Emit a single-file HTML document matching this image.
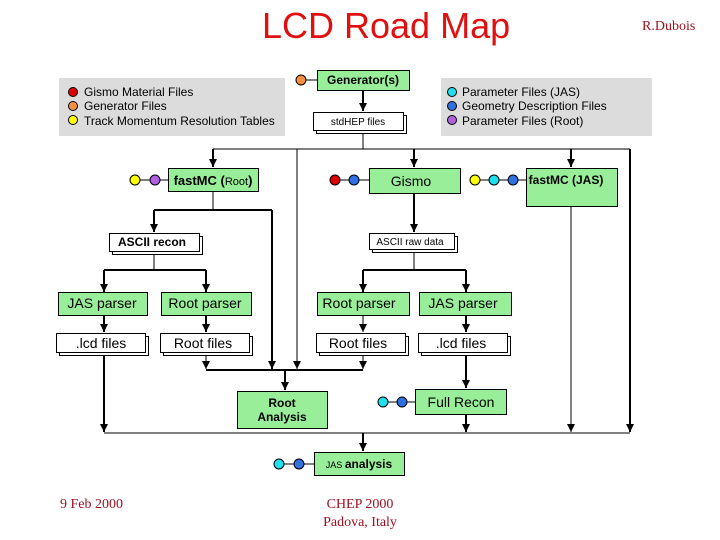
<!DOCTYPE html>
<html><head><meta charset="utf-8"><style>
html,body{margin:0;padding:0;background:#fff;}
svg{display:block;}
text{font-family:"Liberation Sans",sans-serif;}
.s{font-family:"Liberation Serif",serif;fill:#a01020;font-size:14px;}
</style></head><body>
<svg width="720" height="540" viewBox="0 0 720 540" xmlns="http://www.w3.org/2000/svg">
<defs>
<marker id="a" markerWidth="8" markerHeight="8" refX="8" refY="4" orient="auto" markerUnits="userSpaceOnUse">
<path d="M0,0 L8,4 L0,8 z" fill="#000"/></marker>
</defs>
<text x="262" y="38" font-size="36" fill="#e01010">LCD Road Map</text>
<text x="642" y="30" class="s">R.Dubois</text>
<text x="60" y="508" class="s">9 Feb 2000</text>
<text x="360" y="508" class="s" text-anchor="middle">CHEP 2000</text>
<text x="360" y="526" class="s" text-anchor="middle">Padova, Italy</text>

<rect x="59" y="78" width="226" height="58" fill="#dcdcdc"/>
<rect x="441" y="78" width="211" height="58" fill="#dcdcdc"/>
<g stroke="#000" stroke-width="1">
<circle cx="73" cy="92" r="4.5" fill="#e00000"/>
<circle cx="73" cy="106" r="4.5" fill="#f09040"/>
<circle cx="73" cy="120" r="4.5" fill="#ffff00"/>
<circle cx="452" cy="92" r="4.5" fill="#20e0f0"/>
<circle cx="452" cy="106" r="4.5" fill="#3070e0"/>
<circle cx="452" cy="120" r="4.5" fill="#b060e0"/>
</g>
<g font-size="12" fill="#000">
<text x="84" y="96">Gismo Material Files</text>
<text x="84" y="110">Generator Files</text>
<text x="84" y="125">Track Momentum Resolution Tables</text>
<text x="462" y="96">Parameter Files (JAS)</text>
<text x="462" y="110">Geometry Description Files</text>
<text x="462" y="125">Parameter Files (Root)</text>
</g>

<g stroke="#000" stroke-width="1" fill="none">
<line x1="363" y1="90" x2="363" y2="111" stroke-width="2" marker-end="url(#a)"/>
<line x1="363" y1="131" x2="363" y2="149"/>
<line x1="213" y1="149" x2="630" y2="149"/>
<line x1="213" y1="149" x2="213" y2="167" stroke-width="2" marker-end="url(#a)"/>
<line x1="414" y1="149" x2="414" y2="167" stroke-width="2" marker-end="url(#a)"/>
<line x1="571" y1="149" x2="571" y2="167" stroke-width="2" marker-end="url(#a)"/>
<line x1="297" y1="149" x2="297" y2="369" marker-end="url(#a)"/>
<line x1="630" y1="149" x2="630" y2="432" stroke-width="2" marker-end="url(#a)"/>
<line x1="213" y1="191" x2="213" y2="210"/>
<line x1="154" y1="210" x2="272" y2="210" stroke-width="2"/>
<line x1="154" y1="210" x2="154" y2="232" stroke-width="2" marker-end="url(#a)"/>
<line x1="272" y1="210" x2="272" y2="369" stroke-width="2" marker-end="url(#a)"/>
<line x1="414" y1="193" x2="414" y2="232" stroke-width="2" marker-end="url(#a)"/>
<line x1="571" y1="206" x2="571" y2="432" marker-end="url(#a)"/>
<line x1="154" y1="251" x2="154" y2="270"/>
<line x1="104" y1="270" x2="206" y2="270" stroke-width="2"/>
<line x1="104" y1="270" x2="104" y2="292" stroke-width="2" marker-end="url(#a)"/>
<line x1="206" y1="270" x2="206" y2="292" stroke-width="2" marker-end="url(#a)"/>
<line x1="414" y1="249" x2="414" y2="270"/>
<line x1="363" y1="270" x2="466" y2="270" stroke-width="2"/>
<line x1="363" y1="270" x2="363" y2="292" stroke-width="2" marker-end="url(#a)"/>
<line x1="466" y1="270" x2="466" y2="292" stroke-width="2" marker-end="url(#a)"/>
<line x1="104" y1="315" x2="104" y2="332" stroke-width="2" marker-end="url(#a)"/>
<line x1="206" y1="315" x2="206" y2="332" stroke-width="2" marker-end="url(#a)"/>
<line x1="363" y1="315" x2="363" y2="332" marker-end="url(#a)"/>
<line x1="466" y1="315" x2="466" y2="332" stroke-width="2" marker-end="url(#a)"/>
<line x1="206" y1="352" x2="206" y2="369" marker-end="url(#a)"/>
<line x1="363" y1="352" x2="363" y2="369" marker-end="url(#a)"/>
<line x1="206" y1="370" x2="363" y2="370" stroke-width="2"/>
<line x1="285" y1="370" x2="285" y2="390" stroke-width="2" marker-end="url(#a)"/>
<line x1="466" y1="352" x2="466" y2="388" stroke-width="2" marker-end="url(#a)"/>
<line x1="104" y1="352" x2="104" y2="432" stroke-width="2" marker-end="url(#a)"/>
<line x1="466" y1="414" x2="466" y2="432" stroke-width="2" marker-end="url(#a)"/>
<line x1="104" y1="433" x2="630" y2="433"/>
<line x1="363" y1="433" x2="363" y2="451" stroke-width="2" marker-end="url(#a)"/>
<line x1="302" y1="80" x2="317" y2="80"/>
<line x1="135" y1="180" x2="168" y2="180"/>
<line x1="335" y1="180" x2="369" y2="180"/>
<line x1="475" y1="180" x2="526" y2="180"/>
<line x1="383" y1="402" x2="415" y2="402"/>
<line x1="279" y1="464" x2="314" y2="464"/>
</g>
<g stroke="#000" stroke-width="1">
<circle cx="301" cy="80" r="5" fill="#f09040"/>
<circle cx="135" cy="180" r="5" fill="#ffff00"/>
<circle cx="155" cy="180" r="5" fill="#b060e0"/>
<circle cx="335" cy="180" r="5" fill="#e00000"/>
<circle cx="354" cy="180" r="5" fill="#3070e0"/>
<circle cx="475" cy="180" r="5" fill="#ffff00"/>
<circle cx="494" cy="180" r="5" fill="#20e0f0"/>
<circle cx="513" cy="180" r="5" fill="#3070e0"/>
<circle cx="383" cy="402" r="5" fill="#20e0f0"/>
<circle cx="402" cy="402" r="5" fill="#3070e0"/>
<circle cx="279" cy="464" r="5" fill="#20e0f0"/>
<circle cx="299" cy="464" r="5" fill="#3070e0"/>
</g>

<g fill="#99ee99" stroke="#000" stroke-width="1">
<rect x="317.5" y="70.5" width="92" height="20"/>
<rect x="168.5" y="168.5" width="90" height="23"/>
<rect x="369.5" y="168.5" width="91" height="25"/>
<rect x="526.5" y="168.5" width="91" height="38"/>
<rect x="58.5" y="292.5" width="89" height="23"/>
<rect x="161.5" y="292.5" width="90" height="23"/>
<rect x="317.5" y="292.5" width="92" height="23"/>
<rect x="419.5" y="292.5" width="92" height="23"/>
<rect x="237.5" y="391.5" width="90" height="37"/>
<rect x="415.5" y="389.5" width="91" height="25"/>
<rect x="314.5" y="452.5" width="90" height="23"/>
</g>
<g fill="#fff" stroke="#000" stroke-width="1">
<rect x="316.5" y="115.5" width="90" height="18"/><rect x="313.5" y="112.5" width="90" height="18"/>
<rect x="112.5" y="236.5" width="90" height="18"/><rect x="109.5" y="233.5" width="90" height="18"/>
<rect x="372.5" y="236.5" width="85" height="16"/><rect x="369.5" y="233.5" width="85" height="16"/>
<rect x="59.5" y="336.5" width="89" height="19"/><rect x="56.5" y="333.5" width="89" height="19"/>
<rect x="163.5" y="336.5" width="89" height="19"/><rect x="160.5" y="333.5" width="89" height="19"/>
<rect x="319.5" y="336.5" width="89" height="19"/><rect x="316.5" y="333.5" width="89" height="19"/>
<rect x="421.5" y="336.5" width="89" height="19"/><rect x="418.5" y="333.5" width="89" height="19"/>
</g>
<g fill="#000" text-anchor="middle">
<text x="363" y="84" font-size="12" font-weight="bold">Generator(s)</text>
<text x="358" y="125" font-size="10">stdHEP files</text>
<text x="213" y="185" font-size="13" font-weight="bold">fastMC (<tspan font-size="11" font-weight="normal">Root</tspan>)</text>
<text x="411" y="186" font-size="14">Gismo</text>
<text x="566" y="184" font-size="12" font-weight="bold">fastMC (JAS)</text>
<text x="152" y="246" font-size="12" font-weight="bold">ASCII recon</text>
<text x="410" y="245" font-size="10">ASCII raw data</text>
<text x="102" y="308" font-size="14">JAS parser</text>
<text x="205" y="308" font-size="14">Root parser</text>
<text x="359" y="308" font-size="14">Root parser</text>
<text x="463" y="308" font-size="14">JAS parser</text>
<text x="101" y="348" font-size="14">.lcd files</text>
<text x="203" y="348" font-size="14">Root files</text>
<text x="358" y="348" font-size="14">Root files</text>
<text x="461" y="348" font-size="14">.lcd files</text>
<text x="282" y="407" font-size="12" font-weight="bold">Root</text>
<text x="282" y="421" font-size="12" font-weight="bold">Analysis</text>
<text x="461" y="407" font-size="14">Full Recon</text>
<text x="359" y="468" font-size="12" font-weight="bold"><tspan font-size="9" font-weight="normal">JAS </tspan>analysis</text>
</g>
</svg>
</body></html>
